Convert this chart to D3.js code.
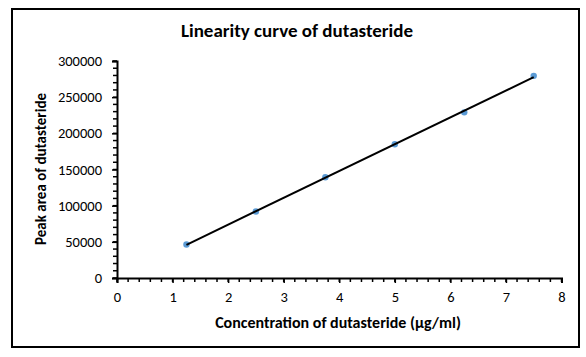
<!DOCTYPE html>
<html><head><meta charset="utf-8">
<script src="https://cdn.jsdelivr.net/npm/d3@7"></script>
<style>body{margin:0;background:#fff}svg{display:block}</style>
</head><body>
<script>
const concentrations = [1.25, 2.5, 3.75, 5, 6.25, 7.5];
const peakAreas = [46300, 92000, 139200, 185000, 229000, 279500];
const xTicks = [0,1,2,3,4,5,6,7,8];
const yTicks = [0,50000,100000,150000,200000,250000,300000];
const title = "Linearity curve of dutasteride";
const xTitle = "Concentration of dutasteride (µg/ml)";
const yTitle = "Peak area of dutasteride";

const W = 586, H = 357;
const svg = d3.select("body").append("svg").attr("width", W).attr("height", H);
const font = "Carlito, Calibri, Lato, 'Open Sans', sans-serif";

svg.append("rect").attr("x",12).attr("y",9).attr("width",567).attr("height",338)
  .attr("fill","#fff").attr("stroke","#000").attr("stroke-width",2);

const x = d3.scaleLinear().domain([0,8]).range([117,561.5]);
const y = d3.scaleLinear().domain([0,300000]).range([278,61]);

// minor ticks
const g = svg.append("g");
g.selectAll(".xm").data(d3.range(0,8.0001,0.2)).join("line")
  .attr("x1",d=>x(d)).attr("x2",d=>x(d)).attr("y1",y(0)).attr("y2",y(0)+4)
  .attr("stroke","#000").attr("stroke-width",1.5);
g.selectAll(".ym").data(d3.range(0,300001,10000)).join("line")
  .attr("y1",d=>y(d)).attr("y2",d=>y(d)).attr("x1",x(0)-4).attr("x2",x(0))
  .attr("stroke","#000").attr("stroke-width",1.5);

const xAxis = svg.append("g").attr("transform",`translate(0,${y(0)})`)
  .call(d3.axisBottom(x).tickValues(xTicks).tickSize(5).tickPadding(9).tickFormat(d3.format("d")));
const yAxis = svg.append("g").attr("transform",`translate(${x(0)},0)`)
  .call(d3.axisLeft(y).tickValues(yTicks).tickSize(5).tickPadding(10).tickFormat(d3.format("d")));
[xAxis,yAxis].forEach(a=>{
  a.select(".domain").attr("stroke","#000").attr("stroke-width",2);
  a.selectAll(".tick line").attr("stroke","#000").attr("stroke-width",1.5);
  a.selectAll(".tick text").attr("fill","#000").style("font-family",font).style("font-size","14.5px");
});

// regression trendline
const n = concentrations.length;
const mx = d3.mean(concentrations), my = d3.mean(peakAreas);
let sxy=0, sxx=0;
for(let i=0;i<n;i++){sxy+=(concentrations[i]-mx)*(peakAreas[i]-my);sxx+=(concentrations[i]-mx)**2;}
const slope = sxy/sxx, icpt = my - slope*mx;
const x0 = d3.min(concentrations), x1 = d3.max(concentrations);

const pts = concentrations.map((c,i)=>({c, a:peakAreas[i]}));
svg.append("g").selectAll("circle").data(pts).join("circle")
  .attr("cx",d=>x(d.c)).attr("cy",d=>y(d.a)).attr("r",3.2).attr("fill","#5B9BD5");

svg.append("line").attr("x1",x(x0)).attr("y1",y(slope*x0+icpt))
  .attr("x2",x(x1)).attr("y2",y(slope*x1+icpt)).attr("stroke","#000").attr("stroke-width",2);

svg.append("text").attr("x",297).attr("y",37).attr("text-anchor","middle")
  .style("font-family",font).style("font-weight","bold").style("font-size","19px").text(title);
svg.append("text").attr("x",338).attr("y",328).attr("text-anchor","middle")
  .style("font-family",font).style("font-weight","bold").style("font-size","16px").text(xTitle);
svg.append("text").attr("transform","translate(46,169) rotate(-90)").attr("text-anchor","middle")
  .style("font-family",font).style("font-weight","bold").style("font-size","15px").text(yTitle);
</script>
</body></html>
